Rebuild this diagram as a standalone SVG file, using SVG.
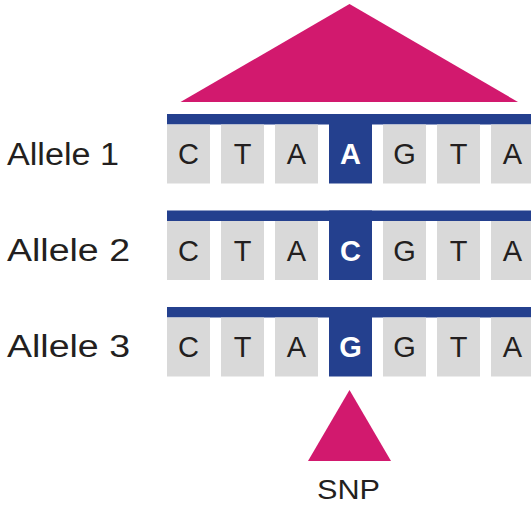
<svg xmlns="http://www.w3.org/2000/svg" width="531" height="506" viewBox="0 0 531 506">
<style>
.bar{fill:#24408e}
.cell{fill:#d9d9d9}
.snpcell{fill:#24408e}
.base{font-family:"Liberation Sans",Arial,sans-serif;font-size:29px;fill:#231f20;text-anchor:middle}
.snpbase{font-family:"Liberation Sans",Arial,sans-serif;font-size:29px;font-weight:bold;fill:#ffffff;text-anchor:middle}
.label{font-family:"Liberation Sans",Arial,sans-serif;font-size:31px;fill:#231f20}
.tri{fill:#d2196e}
.snp{font-family:"Liberation Sans",Arial,sans-serif;font-size:27px;fill:#231f20;text-anchor:middle}
</style>
<defs>
<g id="rowcells">
<rect class="cell" x="167" y="0" width="43" height="59"/>
<rect class="cell" x="221" y="0" width="43" height="59"/>
<rect class="cell" x="275" y="0" width="43" height="59"/>
<rect class="cell" x="383" y="0" width="43" height="59"/>
<rect class="cell" x="437" y="0" width="43" height="59"/>
<rect class="cell" x="491" y="0" width="43" height="59"/>
</g>
</defs>
<g id="top-triangle">
<polygon class="tri" points="349.5,4 180.5,102 518,102"/>
</g>
<g id="allele1">
<text class="label" x="7" y="165" textLength="112" lengthAdjust="spacingAndGlyphs">Allele 1</text>
<rect class="bar" x="167" y="114" width="364" height="10.5"/>
<use href="#rowcells" y="124.5"/>
<rect class="snpcell" x="329" y="114" width="43" height="69.5"/>
<text class="base" x="188.5" y="164">C</text>
<text class="base" x="242.5" y="164">T</text>
<text class="base" x="296.5" y="164">A</text>
<text class="snpbase" x="350.5" y="164">A</text>
<text class="base" x="404.5" y="164">G</text>
<text class="base" x="458.5" y="164">T</text>
<text class="base" x="512.5" y="164">A</text>
</g>
<g id="allele2">
<text class="label" x="7" y="261" textLength="123" lengthAdjust="spacingAndGlyphs">Allele 2</text>
<rect class="bar" x="167" y="210.5" width="364" height="10.5"/>
<use href="#rowcells" y="221"/>
<rect class="snpcell" x="329" y="210.5" width="43" height="69.5"/>
<text class="base" x="188.5" y="260.5">C</text>
<text class="base" x="242.5" y="260.5">T</text>
<text class="base" x="296.5" y="260.5">A</text>
<text class="snpbase" x="350.5" y="260.5">C</text>
<text class="base" x="404.5" y="260.5">G</text>
<text class="base" x="458.5" y="260.5">T</text>
<text class="base" x="512.5" y="260.5">A</text>
</g>
<g id="allele3">
<text class="label" x="7" y="357" textLength="123" lengthAdjust="spacingAndGlyphs">Allele 3</text>
<rect class="bar" x="167" y="307" width="364" height="10.5"/>
<use href="#rowcells" y="317.5"/>
<rect class="snpcell" x="329" y="307" width="43" height="69.5"/>
<text class="base" x="188.5" y="357">C</text>
<text class="base" x="242.5" y="357">T</text>
<text class="base" x="296.5" y="357">A</text>
<text class="snpbase" x="350.5" y="357">G</text>
<text class="base" x="404.5" y="357">G</text>
<text class="base" x="458.5" y="357">T</text>
<text class="base" x="512.5" y="357">A</text>
</g>
<g id="snp-marker">
<polygon class="tri" points="349.5,390 308,461 391,461"/>
<text class="snp" x="348.5" y="499" textLength="63" lengthAdjust="spacingAndGlyphs">SNP</text>
</g>
<g id="connectors"/>
</svg>
